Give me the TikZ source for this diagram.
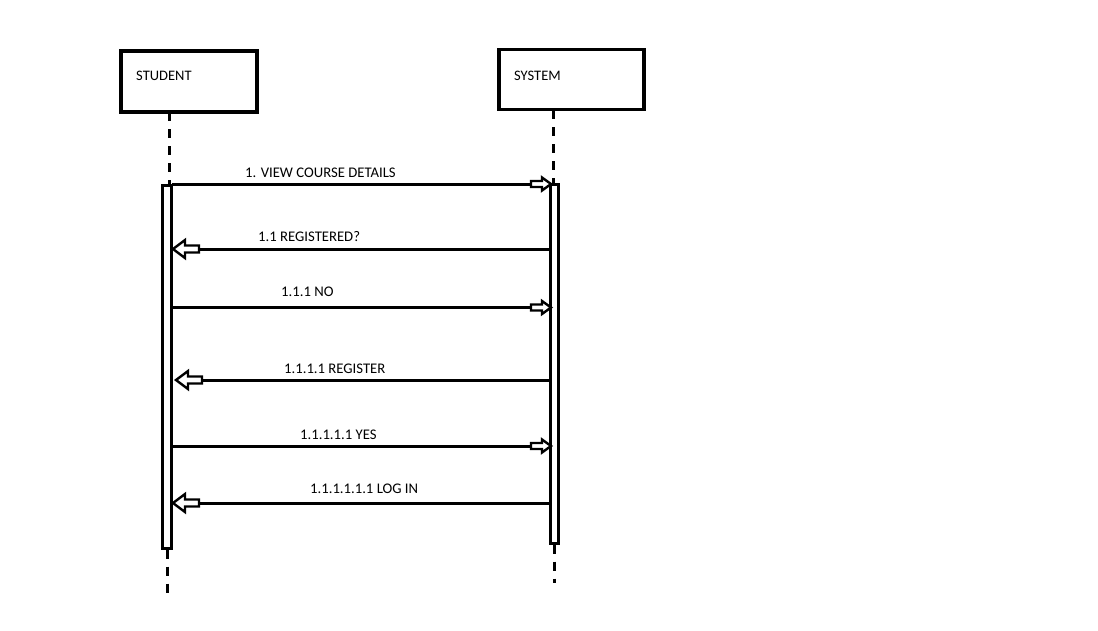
\documentclass[tikz,border=0pt]{standalone}
\usepackage{fontspec}
\setmainfont{Carlito}
\usetikzlibrary{calc}

% Hollow block arrow: a short stem followed by a triangular head
\newcommand\declareblockarrow[5]{%
  \pgfdeclarearrow{
    name = #1,
    setup code = {
      \pgfarrowssettipend{0pt}
      \pgfarrowssetlineend{-#2pt+2pt}
      \pgfarrowssetvisualbackend{-#2pt}
      \pgfarrowsupperhullpoint{-#2pt}{#5pt}
      \pgfarrowsupperhullpoint{-#3pt}{#4pt}
      \pgfarrowsupperhullpoint{0pt}{0pt}
    },
    drawing code = {
      \pgfsetlinewidth{2.4pt}
      \pgfsetmiterjoin
      \pgfsetfillcolor{white}
      \pgfpathmoveto{\pgfqpoint{0pt}{0pt}}
      \pgfpathlineto{\pgfpoint{-#3pt}{#4pt}}
      \pgfpathlineto{\pgfpoint{-#3pt}{#5pt}}
      \pgfpathlineto{\pgfpoint{-#2pt}{#5pt}}
      \pgfpathlineto{\pgfpoint{-#2pt}{-#5pt}}
      \pgfpathlineto{\pgfpoint{-#3pt}{-#5pt}}
      \pgfpathlineto{\pgfpoint{-#3pt}{-#4pt}}
      \pgfpathclose
      \pgfusepathqfillstroke
    }
  }%
}
\declareblockarrow{BlockSmall}{20}{9}{6.5}{3}
\declareblockarrow{BlockLarge}{26}{12}{9}{3.5}

\tikzset{
  actor/.style={draw, line width=3.2pt, rectangle, inner sep=0pt},
  actortext/.style={anchor=base west, inner sep=0pt, font=\fontsize{14.5}{17}\selectfont},
  activation/.style={draw, line width=3pt, fill=white, rectangle, inner sep=0pt, minimum width=9pt},
  lifeline/.style={line width=3pt, dash pattern=on 9pt off 8pt},
  call/.style={line width=3pt, -BlockSmall},
  reply/.style={line width=3pt, -BlockLarge},
  msgtext/.style={anchor=base west, inner sep=0pt, font=\fontsize{14.7}{17}\selectfont},
}

\begin{document}
\begin{tikzpicture}[x=1pt, y=-1pt]
\useasboundingbox (0,0) rectangle (1098,630);

% actors
\node[actor, minimum width=136pt, minimum height=61pt] (student) at (189,81.5) {};
\node[actortext] (studenttext) at (136,80) {STUDENT};
\node[actor, minimum width=145pt, minimum height=60pt] (system) at (571.5,79.5) {};
\node[actortext] (systemtext) at (514,80) {SYSTEM};

% activation bars
\node[activation, minimum height=363pt] (sbar) at (166.5,366.5) {};
\node[activation, minimum height=359pt, minimum width=8pt] (ybar) at (554.5,363.5) {};

% lifelines
\coordinate (sTop) at (169,112);
\coordinate (sBarTop) at (169,185);
\coordinate (sBot) at (167,596);
\coordinate (yTop) at (553,110);
\coordinate (yBarTop) at (553,184);
\coordinate (yBot) at (554,583);
\draw[lifeline] (sTop) -- (sBarTop);
\draw[lifeline] (yTop) -- (yBarTop);
\draw[lifeline] (sbar.south -| sBot) -- (sBot);
\draw[lifeline] (ybar.south -| yBot) -- (yBot);
\node[activation, minimum height=363pt] at (sbar) {};
\node[activation, minimum height=359pt, minimum width=8pt] at (ybar) {};

% messages
\coordinate (m1a) at (172,184); \coordinate (m1b) at (551,184);
\coordinate (m2a) at (551,249); \coordinate (m2b) at (173,249);
\coordinate (m3a) at (170,307.5); \coordinate (m3b) at (551,307.5);
\coordinate (m4a) at (551,380); \coordinate (m4b) at (176,380);
\coordinate (m5a) at (172,446); \coordinate (m5b) at (551,446);
\coordinate (m6a) at (551,503); \coordinate (m6b) at (173,503);

\draw[call]  (m1a) -- (m1b);
\draw[reply] (m2a) -- (m2b);
\draw[call]  (m3a) -- (m3b);
\draw[reply] (m4a) -- (m4b);
\draw[call]  (m5a) -- (m5b);
\draw[reply] (m6a) -- (m6b);

\node[msgtext] (t1) at (245,177) {1. VIEW COURSE DETAILS};
\node[msgtext] (t2) at (258,241.5) {1.1 REGISTERED?};
\node[msgtext] (t3) at (281,296) {1.1.1 NO};
\node[msgtext] (t4) at (284,373) {1.1.1.1 REGISTER};
\node[msgtext] (t5) at (300,439) {1.1.1.1.1 YES};
\node[msgtext] (t6) at (310,493) {1.1.1.1.1.1 LOG IN};
\end{tikzpicture}
\end{document}
